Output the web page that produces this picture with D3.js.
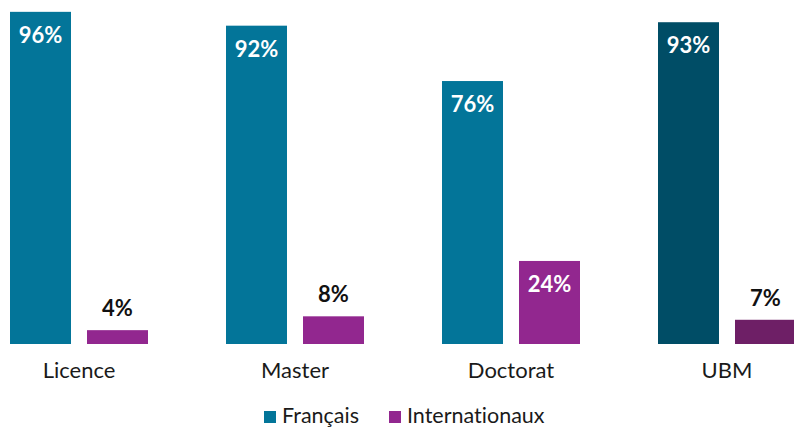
<!DOCTYPE html>
<html>
<head>
<meta charset="utf-8">
<script src="https://cdn.jsdelivr.net/npm/d3@7"></script>
<style>
  body { margin: 0; background: #fff; }
  text { font-family: "Lato", "Noto Sans", sans-serif; font-variant-ligatures: none; }
</style>
</head>
<body>
<div id="chart"></div>
<script>
// data
var categories = ["Licence", "Master", "Doctorat", "UBM"];
var series = ["Français", "Internationaux"];
var francais = [96, 92, 76, 93];
var internationaux = [4, 8, 24, 7];

var width = 794, height = 430;
var baseline = 344;

var colors = {
  "Français": ["#037599", "#037599", "#037599", "#004d66"],
  "Internationaux": ["#92278f", "#92278f", "#92278f", "#6e1f66"]
};

var svg = d3.select("#chart").append("svg")
    .attr("width", width)
    .attr("height", height);

// group scale, then bars inside each group
var x0 = d3.scaleBand().domain(categories)
    .range([10, 796])
    .paddingInner(78 / 216)
    .paddingOuter(0);

var x1 = d3.scaleBand().domain(series)
    .range([0, x0.bandwidth()])
    .paddingInner(16 / 77)
    .paddingOuter(0);

var y = d3.scaleLinear().domain([0, 100]).range([baseline, -2]);

var rows = [];
categories.forEach(function(c, i) {
  rows.push({cat: c, s: "Français", v: francais[i], i: i});
  rows.push({cat: c, s: "Internationaux", v: internationaux[i], i: i});
});

svg.selectAll("rect.bar")
  .data(rows)
  .enter()
  .append("rect")
  .attr("class", "bar")
  .attr("x", function(d) { return x0(d.cat) + x1(d.s); })
  .attr("width", x1.bandwidth())
  .attr("y", function(d) { return y(d.v); })
  .attr("height", function(d) { return baseline - y(d.v); })
  .style("fill", function(d) { return colors[d.s][d.i]; });

// value labels: inside for tall bars, above for short ones
svg.selectAll("text.val")
  .data(rows)
  .enter()
  .append("text")
  .attr("class", "val")
  .attr("x", function(d) { return x0(d.cat) + x1(d.s) + x1.bandwidth() / 2; })
  .attr("y", function(d) { return d.v > 15 ? y(d.v) + 31 : y(d.v) - 14; })
  .attr("text-anchor", "middle")
  .style("font-size", "22px")
  .style("font-weight", "bold")
  .style("fill", function(d) { return d.v > 15 ? "#fff" : "#111"; })
  .text(function(d) { return d.v + "%"; });

// category labels
var xAxis = d3.axisBottom(x0).tickSize(0).tickPadding(0);
var ax = svg.append("g")
  .attr("transform", "translate(0,378)")
  .call(xAxis);
ax.select(".domain").remove();
ax.selectAll("text")
  .attr("dy", null)
  .attr("y", 0)
  .style("font-size", "22px")
  .style("fill", "#1a1a1a");

// legend
var legend = [
  {name: "Français", color: "#037599", x: 264},
  {name: "Internationaux", color: "#92278f", x: 389}
];
var lg = svg.selectAll("g.leg").data(legend).enter().append("g")
  .attr("class", "leg")
  .attr("transform", function(d) { return "translate(" + d.x + ",411)"; });
lg.append("rect").attr("width", 12).attr("height", 12).style("fill", function(d) { return d.color; });
lg.append("text").attr("x", 18).attr("y", 12)
  .style("font-size", "21.5px")
  .style("fill", "#1a1a1a")
  .text(function(d) { return d.name; });
</script>
</body>
</html>
